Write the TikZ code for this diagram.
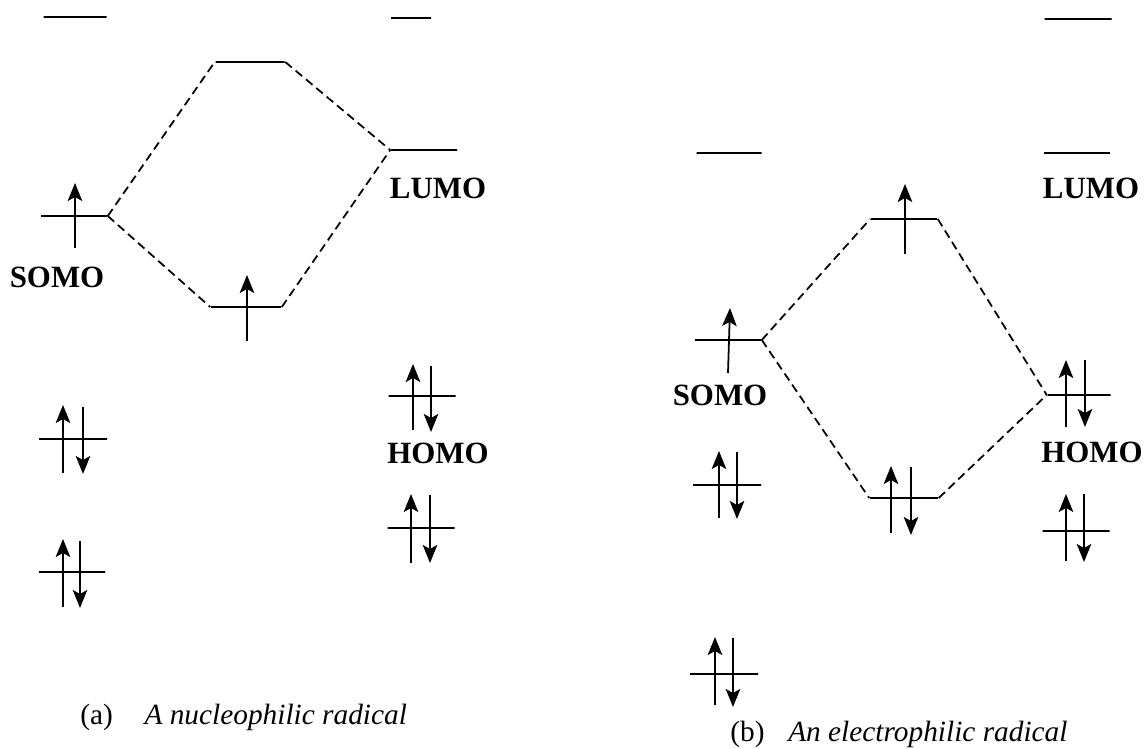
\documentclass[tikz,border=0pt]{standalone}
\usepackage{fontspec}
\setmainfont{Liberation Serif}
\usetikzlibrary{arrows.meta,positioning}

\begin{document}
\begin{tikzpicture}[
    x=0.02cm, y=-0.02cm,
    orb/.style={draw, inner sep=0pt, minimum height=0pt, minimum width=#1*0.02cm, line width=0.9pt},
    orb/.default=66,
    mix/.style={dash pattern=on 0.17cm off 0.1cm, line width=1pt},
    spin/.style={-{Stealth[length=0.36cm, width=0.29cm, inset=0.08cm]}, line width=1pt},
    tag/.style={font=\fontsize{17.6pt}{20pt}\selectfont\bfseries, inner sep=0pt},
    caption/.style={font=\fontsize{16.7pt}{20pt}\selectfont, inner sep=0pt, anchor=base west}
]
    \useasboundingbox (0,0) rectangle (1144,749);

    % (a) nucleophilic radical
    \node [orb=63] (a1) at (75,17) {};
    \node [orb=40] (a2) at (411,18) {};
    \node [orb=69] (a3) at (250,62) {};
    \node [orb] (a4) at (424,150) {};
    \node [orb] (a5) at (74,216) {};
    \node [orb=70] (a6) at (246,307) {};
    \node [orb=67] (a7) at (422,396) {};
    \node [orb=68] (a8) at (73,439) {};
    \node [orb=67] (a9) at (421,528) {};
    \node [orb] (a10) at (72,572) {};

    \draw [mix] (a5.east) -- (a3.west);
    \draw [mix] (a3.east) -- (a4.west);
    \draw [mix] (a5.east) -- (a6.west);
    \draw [mix] (a6.east) -- (a4.west);

    \draw [spin] ([shift={(1,32)}]a5.center) -- ++(0,-65);
    \draw [spin] ([shift={(1,34)}]a6.center) -- ++(0,-66);
    \draw [spin] ([shift={(-9,34)}]a7.center) -- ++(0,-66);
    \draw [spin] ([shift={(9,-30)}]a7.center) -- ++(0,66);
    \draw [spin] ([shift={(-10,34)}]a8.center) -- ++(0,-68);
    \draw [spin] ([shift={(10,-32)}]a8.center) -- ++(0,67);
    \draw [spin] ([shift={(-10,35)}]a9.center) -- ++(0,-69);
    \draw [spin] ([shift={(9,-33)}]a9.center) -- ++(0,68);
    \draw [spin] ([shift={(-9,35)}]a10.center) -- ++(0,-68);
    \draw [spin] ([shift={(8,-31)}]a10.center) -- ++(0,67);

    \node [tag] (somoa) at (57,277) {SOMO};
    \node [tag] (lumoa) at (438,188) {LUMO};
    \node [tag] (homoa) at (438,453) {HOMO};
    \node [caption] (capa) at (80,725) {(a)\hspace{18pt}\textit{A nucleophilic radical}};

    % (b) electrophilic radical
    \node [orb=67] (b1) at (1078,19) {};
    \node [orb=65] (b2) at (729,153) {};
    \node [orb] (b3) at (1077,153) {};
    \node [orb] (b4) at (904,219) {};
    \node [orb] (b5) at (728,340) {};
    \node [orb=63] (b6) at (1079,395) {};
    \node [orb=68] (b7) at (904,498) {};
    \node [orb=68] (b8) at (727,485) {};
    \node [orb=67] (b9) at (1076,531) {};
    \node [orb=68] (b10) at (724,674) {};

    \draw [mix] (b5.east) -- (b4.west);
    \draw [mix] (b4.east) -- (b6.west);
    \draw [mix] (b5.east) -- (b7.west);
    \draw [mix] (b7.east) -- (b6.west);

    \draw [spin] ([shift={(0,33)}]b5.center) -- ++(2,-65);
    \draw [spin] ([shift={(1,35)}]b4.center) -- ++(0,-70);
    \draw [spin] ([shift={(-13,32)}]b6.center) -- ++(0,-67);
    \draw [spin] ([shift={(6,-35)}]b6.center) -- ++(0,67);
    \draw [spin] ([shift={(-8,33)}]b8.center) -- ++(0,-67);
    \draw [spin] ([shift={(10,-33)}]b8.center) -- ++(0,67);
    \draw [spin] ([shift={(-13,35)}]b7.center) -- ++(0,-67);
    \draw [spin] ([shift={(7,-31)}]b7.center) -- ++(0,68);
    \draw [spin] ([shift={(-10,30)}]b9.center) -- ++(0,-67);
    \draw [spin] ([shift={(8,-37)}]b9.center) -- ++(0,68);
    \draw [spin] ([shift={(-9,31)}]b10.center) -- ++(0,-68);
    \draw [spin] ([shift={(9,-36)}]b10.center) -- ++(0,69);

    \node [tag] (somob) at (720,395) {SOMO};
    \node [tag] (lumob) at (1091,188) {LUMO};
    \node [tag] (homob) at (1092,452) {HOMO};
    \node [caption] (capb) at (730,742) {(b)\hspace{13.5pt}\textit{An electrophilic radical}};
\end{tikzpicture}
\end{document}
